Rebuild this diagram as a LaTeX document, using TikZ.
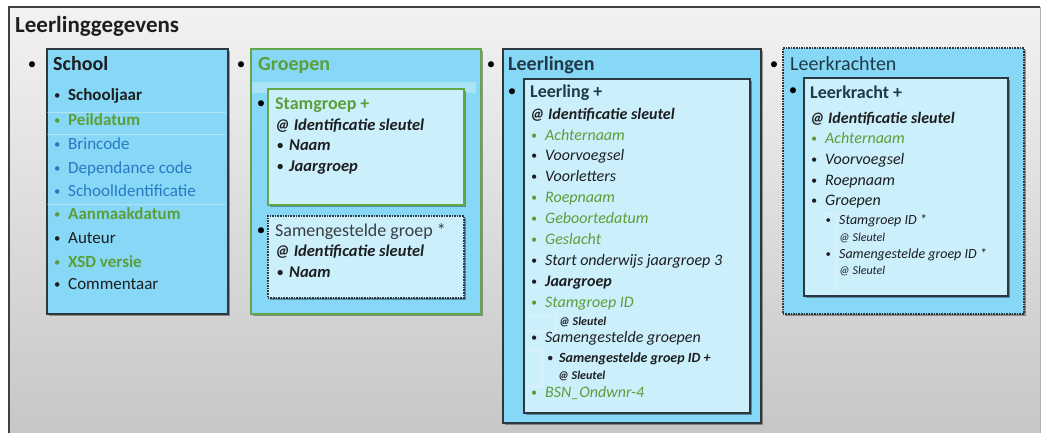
\documentclass[tikz,border=0pt]{standalone}
\usepackage{fontspec}
\setmainfont{Carlito}
\usetikzlibrary{shadows}

\definecolor{txtdark}{RGB}{28,30,32}
\definecolor{txtgreen}{RGB}{92,158,58}
\definecolor{txtblue}{RGB}{42,120,196}
\definecolor{txtslate}{RGB}{32,58,72}
\definecolor{txtgray}{RGB}{58,62,66}
\definecolor{boxline}{RGB}{43,56,64}
\definecolor{grpline}{RGB}{98,168,72}
\definecolor{outerblue}{RGB}{134,216,246}
\definecolor{innerblue}{RGB}{204,239,252}
\definecolor{bgtop}{RGB}{242,242,242}
\definecolor{bgbot}{RGB}{198,198,198}

% smaller bullet, and one hanging left of the text (#1 = twice the gap to the text)
\newcommand{\sbul}{\raisebox{0.07em}{\scalebox{0.75}{\textbullet}}}
\newcommand{\blt}[1]{\llap{\makebox[#1][c]{\sbul}}}

\tikzset{
  shadowed/.style={drop shadow={shadow xshift=2pt, shadow yshift=-2pt, opacity=0.35, fill=black}},
  outerbox/.style={draw=boxline, line width=1.6pt, fill=outerblue, anchor=north west, inner sep=0pt, shadowed},
  innerbox/.style={draw=boxline, line width=1.6pt, fill=innerblue, anchor=north west, inner sep=0pt, shadowed},
  txt/.style={anchor=mid west, inner sep=0pt, text=txtdark},
  head/.style={txt, font=\fontsize{20}{24}\selectfont\bfseries},
  sub/.style={txt, font=\fontsize{18}{22}\selectfont\bfseries},
  item/.style={txt, font=\fontsize{17}{20}\selectfont},
  ital/.style={txt, font=\fontsize{16}{19}\selectfont\itshape},
  small/.style={txt, font=\fontsize{14}{17}\selectfont\itshape},
  tiny/.style={txt, font=\fontsize{12}{14}\selectfont\itshape},
  dot/.style={anchor=mid, inner sep=0pt, text=black, font=\fontsize{17}{20}\selectfont},
  faint/.style={draw=white, opacity=0.35, line width=0.8pt}
}

\begin{document}
\begin{tikzpicture}[x=1pt, y=-1pt]
    \useasboundingbox (0,0) rectangle (1043,432);
    % Draw background and frame
    \fill[white] (0,0) rectangle (1043,432);
    \fill[top color=bgtop, bottom color=bgbot] (9,7) rectangle (1040,440);
    \draw[black!75, line width=1.6pt] (9,440) -- (9,7) -- (1040,7);
    \draw[black!30, line width=0.8pt] (1040,7) -- (1040,440);
    \node[txt, font=\fontsize{23}{27}\selectfont\bfseries] (titel) at (15,30) {Leerlinggegevens};

    % Top level bullets
    \foreach \x/\n in {32/school, 241/groepen, 491/leerlingen, 774/leerkrachten}
        \node[dot] (dot-\n) at (\x,67) {\textbullet};

    % School
    \node[outerbox, minimum width=181pt, minimum height=265pt] (school) at (46,48) {};
    \foreach \y in {112,134,204}
        \draw[faint] (47,\y) -- (226,\y);
    \node[head] (school-kop) at (53,68) {School};
    \foreach \y/\c/\t [count=\i] in {98/txtdark/\bfseries Schooljaar, 123/txtgreen/\bfseries Peildatum,
        147/txtblue/Brincode, 171/txtblue/Dependance code, 194/txtblue/SchoolIdentificatie,
        217/txtgreen/\bfseries Aanmaakdatum, 241/txtdark/Auteur, 265/txtgreen/\bfseries XSD versie,
        287/txtdark/Commentaar}
        \node[item, text=\c] (school-\i) at (68,\y) {\blt{22pt}\t};

    % Groepen
    \node[outerbox, draw=grpline, minimum width=230pt, minimum height=265pt] (groepen) at (250,48) {};
    \fill[white, opacity=0.3] (252,82) rectangle (476,93);
    \node[head, text=txtgreen] (groepen-kop) at (258,68) {Groepen};
    \node[innerbox, draw=grpline, minimum width=196pt, minimum height=116pt] (stamgroep) at (267,88) {};
    \node[dot] (dot-stamgroep) at (261,106) {\textbullet};
    \node[sub, text=txtgreen] (stamgroep-kop) at (275,107) {Stamgroep +};
    \node[ital, font=\fontsize{16.5}{19}\selectfont\bfseries\itshape] (stamgroep-id) at (275,128) {@ Identificatie sleutel};
    \node[ital, font=\fontsize{16.5}{19}\selectfont\bfseries\itshape] (stamgroep-1) at (289,148) {\blt{18pt}Naam};
    \node[ital, font=\fontsize{16.5}{19}\selectfont\bfseries\itshape] (stamgroep-2) at (289,169) {\blt{18pt}Jaargroep};
    \node[innerbox, densely dotted, minimum width=196pt, minimum height=82pt] (samengesteld) at (267,215) {};
    \node[dot] (dot-samengesteld) at (261,233) {\textbullet};
    \node[item, font=\fontsize{18}{22}\selectfont, text=txtgray] (samengesteld-kop) at (275,234) {Samengestelde groep *};
    \node[ital, font=\fontsize{16.5}{19}\selectfont\bfseries\itshape] (samengesteld-id) at (275,254) {@ Identificatie sleutel};
    \node[ital, font=\fontsize{16.5}{19}\selectfont\bfseries\itshape] (samengesteld-1) at (289,275) {\blt{18pt}Naam};

    % Leerlingen
    \node[outerbox, minimum width=258pt, minimum height=374pt] (leerlingen) at (502,48) {};
    \node[head, text=txtslate] (leerlingen-kop) at (508,68) {Leerlingen};
    \node[innerbox, minimum width=226pt, minimum height=334pt] (leerling) at (523,78) {};
    \node[dot] (dot-leerling) at (512,94) {\textbullet};
    \node[sub, text=txtslate] (leerling-kop) at (530,95) {Leerling +};
    \node[ital, font=\fontsize{16}{19}\selectfont\bfseries\itshape] (leerling-id) at (530,117) {@ Identificatie sleutel};
    \foreach \y/\c/\t [count=\i] in {138/txtgreen/Achternaam, 158/txtdark/Voorvoegsel, 179/txtdark/Voorletters,
        200/txtgreen/Roepnaam, 221/txtgreen/Geboortedatum, 242/txtgreen/Geslacht,
        263/txtdark/Start onderwijs jaargroep 3, 284/txtdark/\bfseries Jaargroep,
        305/txtgreen/Stamgroep ID, 340/txtdark/Samengestelde groepen, 395/txtgreen/BSN\_Ondwnr-4}
        \node[ital, text=\c] (leerling-\i) at (545,\y) {\blt{22pt}\t};
    \draw[faint] (526,315) -- (556,315) -- (556,331) -- (526,331);
    \draw[faint] (526,350) -- (542,350) -- (542,386) -- (526,386);
    \node[tiny, font=\fontsize{12}{14}\selectfont\bfseries\itshape] (leerling-sl1) at (559,323) {@ Sleutel};
    \node[small, font=\fontsize{14}{17}\selectfont\bfseries\itshape] (leerling-sg) at (559,360) {\blt{18pt}Samengestelde groep ID +};
    \node[tiny, font=\fontsize{12}{14}\selectfont\bfseries\itshape] (leerling-sl2) at (558,377) {@ Sleutel};

    % Leerkrachten
    \node[outerbox, densely dotted, minimum width=241pt, minimum height=266pt] (leerkrachten) at (782,47) {};
    \node[txt, font=\fontsize{20}{24}\selectfont, text=txtslate] (leerkrachten-kop) at (790,68) {Leerkrachten};
    \node[innerbox, minimum width=204pt, minimum height=218pt] (leerkracht) at (803,77) {};
    \node[dot] (dot-leerkracht) at (793,93) {\textbullet};
    \node[sub, text=txtslate] (leerkracht-kop) at (810,96) {Leerkracht +};
    \node[ital, font=\fontsize{16}{19}\selectfont\bfseries\itshape] (leerkracht-id) at (810,121) {@ Identificatie sleutel};
    \foreach \y/\c/\t [count=\i] in {141/txtgreen/Achternaam, 162/txtdark/Voorvoegsel,
        183/txtdark/Roepnaam, 203/txtdark/Groepen}
        \node[ital, text=\c] (leerkracht-\i) at (825,\y) {\blt{22pt}\t};
    \draw[faint] (822,213) -- (836,213) -- (836,290);
    \node[small] (leerkracht-sg1) at (839,222) {\blt{22pt}Stamgroep ID *};
    \node[tiny] (leerkracht-sl1) at (839,239) {@ Sleutel};
    \node[small] (leerkracht-sg2) at (839,256) {\blt{22pt}Samengestelde groep ID *};
    \node[tiny] (leerkracht-sl2) at (839,272) {@ Sleutel};
\end{tikzpicture}
\end{document}
